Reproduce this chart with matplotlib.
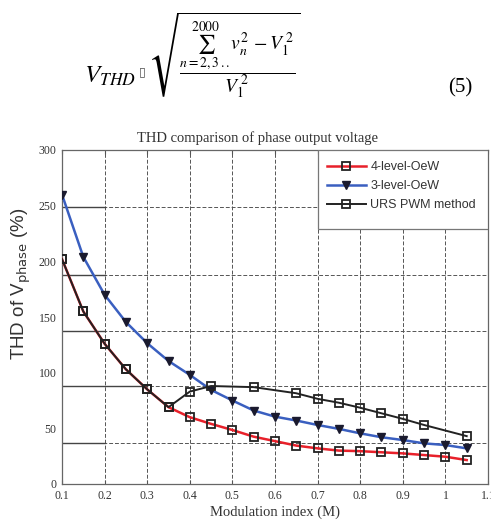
import matplotlib
matplotlib.use("Agg")
import matplotlib.pyplot as plt
from matplotlib.patches import Rectangle

plt.rcParams['mathtext.fontset'] = 'stix'

# ---- data ----
m_all = [0.10, 0.15, 0.20, 0.25, 0.30, 0.35, 0.40, 0.45, 0.50, 0.55, 0.60,
         0.65, 0.70, 0.75, 0.80, 0.85, 0.90, 0.95, 1.00, 1.05]
thd_4level = [202, 155, 126, 103, 85, 69, 60, 54, 48.5, 42.5, 38.5,
              34.5, 32, 30, 29.5, 28.5, 27.5, 26, 24.5, 21.5]
thd_3level = [260, 204, 170, 145.5, 126.5, 110.5, 98, 84.5, 75, 66, 60.5,
              57, 53, 49.5, 45.5, 42, 39.5, 36.5, 35, 32]
m_urs = [0.10, 0.15, 0.20, 0.25, 0.30, 0.35, 0.40, 0.45, 0.55,
         0.65, 0.70, 0.75, 0.80, 0.85, 0.90, 0.95, 1.05]
thd_urs = [202, 155, 126, 103, 85, 69, 83, 88, 87,
           81.5, 76.5, 73, 68.5, 63.5, 58.5, 53, 43]

labels = ['4-level-OeW', '3-level-OeW', 'URS PWM method']
xticks = [0.1, 0.2, 0.3, 0.4, 0.5, 0.6, 0.7, 0.8, 0.9, 1.0, 1.1]
xticklabels = ['0.1', '0.2', '0.3', '0.4', '0.5', '0.6', '0.7', '0.8', '0.9', '1', '1.1']
yticks = [0, 50, 100, 150, 200, 250, 300]
# horizontal grid lines as drawn (slightly offset in the scan)
hgrid = [37, 88, 137, 188, 249]
hseg_end = [0.2, 0.3, 0.2, 0.2, 0.2]

W, H = 491, 520
fig = plt.figure(figsize=(W / 100, H / 100), dpi=100)

# ---- equation ----
fig.text(110 / W, 1 - 76 / H, r'$V_{THD}$', fontsize=18, ha='center', va='center')
fig.text(142 / W, 1 - 72 / H, '\u25af', fontsize=9, ha='center', va='center',
         color='#555555', family='DejaVu Sans')
fig.text(224 / W, 1 - 55 / H,
         r'$\sqrt{\dfrac{\sum_{n=2,3\,..}^{2000} v_n^2\,-V_1^{\,2}}{V_1^{\,2}}}$',
         fontsize=14, ha='center', va='center')
fig.text(460 / W, 1 - 88 / H, '(5)', fontsize=15, ha='center', va='center',
         family='Liberation Serif')

# ---- axes ----
ax = fig.add_axes([62 / W, 1 - 484 / H, (488 - 62) / W, (484 - 150) / H])
ax.set_xlim(0.1, 1.1)
ax.set_ylim(0, 300)

for v in xticks[1:-1]:
    ax.axvline(v, color='#555555', lw=0.7, ls=(0, (4, 2)), zorder=1)
for v in hgrid:
    ax.axhline(v, color='#555555', lw=0.7, ls=(0, (4, 2)), zorder=1)
for v, x1 in zip(hgrid, hseg_end):
    ax.plot([0.1, x1], [v, v], color='#444444', lw=1.0, zorder=1.5)

ax.plot(m_all, thd_4level, color='#e8202a', lw=1.8, marker='s', ms=6,
        mfc='none', mec='#222222', mew=1.3, label=labels[0], zorder=3)
ax.plot(m_all, thd_3level, color='#3a5fc0', lw=1.8, marker='v', ms=6,
        mfc='#1a1a2e', mec='#1a1a2e', label=labels[1], zorder=3)
ax.plot(m_urs, thd_urs, color='#222222', lw=1.4, marker='s', ms=6,
        mfc='none', mec='#222222', mew=1.3, label=labels[2], zorder=4)

ax.set_xticks(xticks)
ax.set_xticklabels(xticklabels)
ax.set_yticks(yticks)
for lab in ax.get_xticklabels() + ax.get_yticklabels():
    lab.set_family('Liberation Serif')
    lab.set_fontsize(8.5)
    lab.set_color('#333333')
ax.tick_params(axis='both', length=0, pad=4)
ax.tick_params(axis='x', top=True, direction='in', length=3, color='#555555')
for s in ax.spines.values():
    s.set_color('#666666')
    s.set_linewidth(0.9)

ax.set_xlabel('Modulation index (M)', family='Liberation Serif', fontsize=10.5,
              color='#333333', labelpad=3)
ylab = ax.set_ylabel(r'THD of V$_{\rm phase}$ (%)', family='Liberation Sans',
                     fontsize=13.5, color='#333333')
ylab.set_math_fontfamily('dejavusans')
ax.yaxis.set_label_coords(-0.068, 0.60)
ax.set_title('THD comparison of phase output voltage', family='Liberation Serif',
             fontsize=10.5, color='#333333', x=0.458, pad=6)

# legend frame drawn as a plain rectangle (with empty space below entries)
lx0 = (318 - 62) / 426
ly0 = (484 - 229) / 334
ax.add_patch(Rectangle((lx0, ly0), 1 - lx0, 1 - ly0, transform=ax.transAxes,
                       facecolor='white', edgecolor='#777777', lw=0.9, zorder=5))
leg = ax.legend(loc='upper left', bbox_to_anchor=(lx0 - 0.005, 1.0), frameon=False,
                borderaxespad=0, handlelength=3.1, handletextpad=0.35,
                labelspacing=0.55, borderpad=0.9,
                prop={'family': 'Liberation Sans', 'size': 9})
leg.set_zorder(6)
for t in leg.get_texts():
    t.set_color('#333333')

fig.savefig('out.png', dpi=100)
